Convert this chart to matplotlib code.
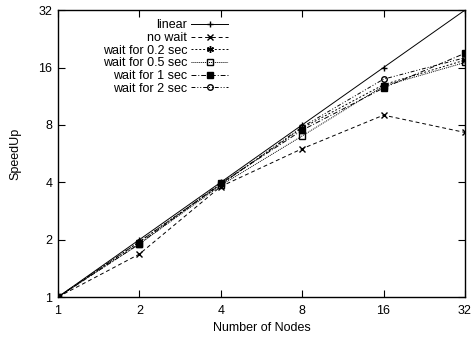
import numpy as np
import matplotlib
matplotlib.use("Agg")
import matplotlib.pyplot as plt

nodes = [1, 2, 4, 8, 16, 32]
linear = [1, 2, 4, 8, 16, 32]
no_wait = [1, 1.68, 3.8, 6.0, 9.0, 7.3]
wait_02 = [1, 1.95, 3.9, 7.7, 13.0, 17.5]
wait_05 = [1, 1.9, 3.85, 7.0, 12.8, 17.0]
wait_1 = [1, 1.9, 3.95, 7.5, 12.5, 19.0]
wait_2 = [1, 1.95, 3.9, 7.8, 13.9, 18.0]

plt.rcParams['font.family'] = ['Liberation Sans', 'DejaVu Sans']
plt.rcParams['font.size'] = 9

fig = plt.figure(figsize=(4.72, 3.38), dpi=100)
ax = fig.add_axes([0.1229, 0.1213, 0.8621, 0.8487])

lw = 0.7
ax.plot(nodes, linear, '-', c='k', lw=lw, marker='+', ms=5, label="linear")
ax.plot(nodes, no_wait, c='k', lw=lw, ls=(0, (4, 3)), marker='x', ms=4, label="no wait")
ax.plot(nodes, wait_02, c='k', lw=lw, ls=(0, (2, 2)), marker=(6, 2, 0), ms=5, label="wait for 0.2 sec")
ax.plot(nodes, wait_05, c='k', lw=lw, ls=(0, (1, 1)), marker='s', mfc='none', ms=4, label="wait for 0.5 sec")
ax.plot(nodes, wait_1, c='k', lw=lw, ls=(0, (5, 2, 1, 2)), marker='s', ms=4, label="wait for 1 sec")
ax.plot(nodes, wait_2, c='k', lw=lw, ls=(0, (4, 2, 1, 2, 1, 2)), marker='o', mfc='none', ms=4, label="wait for 2 sec")

ax.set_xscale('log', base=2)
ax.set_yscale('log', base=2)
ax.set_xlim(1, 32)
ax.set_ylim(1, 32)
ax.set_xticks(nodes)
ax.set_xticklabels([str(n) for n in nodes])
ax.set_yticks(linear)
ax.set_yticklabels([str(n) for n in linear])
ax.minorticks_off()
ax.tick_params(direction='in', top=True, right=True, length=5, width=0.8)
ax.tick_params(axis='x', pad=6)
ax.tick_params(axis='y', pad=4)
for s in ax.spines.values():
    s.set_linewidth(1.0)

ax.set_xlabel("Number of Nodes", labelpad=3)
ax.set_ylabel("SpeedUp", labelpad=12)

ax.legend(loc='upper left', bbox_to_anchor=(0.088, 0.998), markerfirst=False, frameon=False,
          handlelength=3.0, handletextpad=0.3, labelspacing=0.05, borderpad=0.2, numpoints=1)

fig.savefig("out.png", dpi=100)
